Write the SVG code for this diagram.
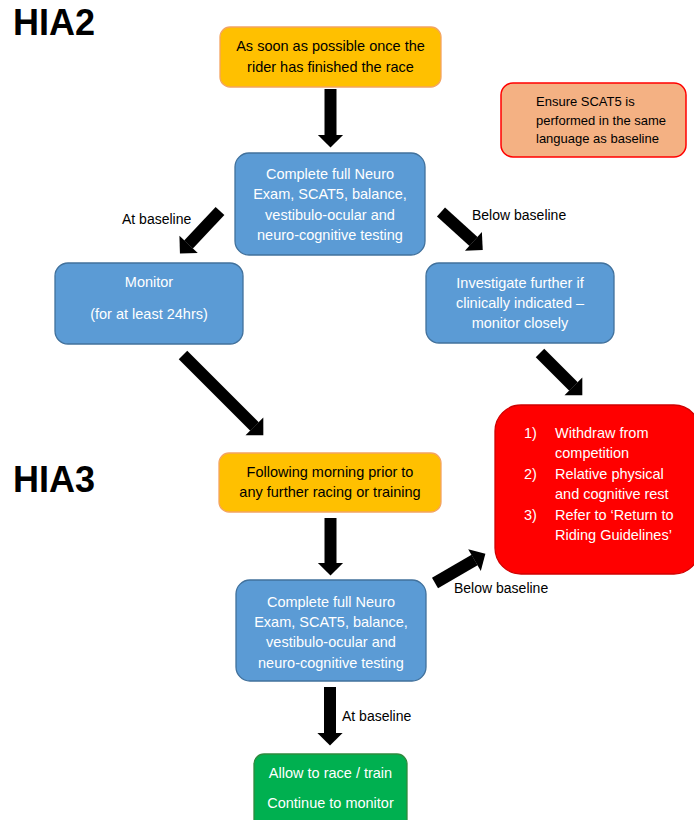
<svg xmlns="http://www.w3.org/2000/svg" width="694" height="820" viewBox="0 0 694 820">
<style>
.t{font-family:"Liberation Sans",Arial,sans-serif;font-size:14.5px;}
.w{fill:#ffffff;}
.k{fill:#000000;}
.c{text-anchor:middle;}
.title{font-family:"Liberation Sans",Arial,sans-serif;font-size:36px;font-weight:bold;fill:#000;}
.lbl{font-family:"Liberation Sans",Arial,sans-serif;font-size:14px;fill:#000;}
.blue{fill:#5B9BD5;stroke:#41719C;stroke-width:1.3;}
.orange{fill:#FFC000;stroke:#F4A460;stroke-width:1.3;}
.salmon{fill:#F4B183;stroke:#FF0000;stroke-width:1.5;}
.red{fill:#FF0000;stroke:#D00000;stroke-width:1.3;}
.green{fill:#00B050;stroke:#2E8B3E;stroke-width:1.3;}
.arr{stroke:#000;stroke-width:12;fill:none;marker-end:url(#ah);}
</style>
<defs>
<marker id="ah" markerUnits="strokeWidth" markerWidth="1.05" markerHeight="2.1" viewBox="0 0 1.05 2.1" refX="0.01" refY="1.05" orient="auto" overflow="visible">
<path d="M0,0 L1.05,1.05 L0,2.1 z" fill="#000"/>
</marker>
</defs>
<rect width="694" height="820" fill="#ffffff"/>
<text class="title" x="13" y="35">HIA2</text>
<text class="title" x="13" y="492">HIA3</text>

<g id="connectors">
<line class="arr" x1="330.5" y1="89" x2="330.5" y2="135"/>
<line class="arr" x1="220" y1="211" x2="188.5" y2="244.5"/>
<line class="arr" x1="441" y1="212" x2="473.5" y2="241.5"/>
<line class="arr" x1="183" y1="355" x2="254.5" y2="426.5"/>
<line class="arr" x1="540" y1="353" x2="573.5" y2="386.5"/>
<line class="arr" x1="330.5" y1="518" x2="330.5" y2="563"/>
<line class="arr" x1="435" y1="583" x2="474.6" y2="560"/>
<line class="arr" x1="330" y1="687" x2="330" y2="733"/>
<text class="lbl" x="122" y="224">At baseline</text>
<text class="lbl" x="472" y="220">Below baseline</text>
<text class="lbl" x="454" y="593">Below baseline</text>
<text class="lbl" x="342" y="721">At baseline</text>
</g>

<g id="start">
<rect class="orange" x="220" y="27" width="221" height="60" rx="10"/>
<text class="t k c" x="330.5" y="51">As soon as possible once the</text>
<text class="t k c" x="330.5" y="72">rider has finished the race</text>
</g>

<g id="note">
<rect class="salmon" x="501" y="83" width="185" height="74" rx="12"/>
<text class="k" x="536" y="106" style="font-family:'Liberation Sans',Arial,sans-serif;font-size:13px">Ensure SCAT5 is</text>
<text class="k" x="536" y="124.5" style="font-family:'Liberation Sans',Arial,sans-serif;font-size:13px">performed in the same</text>
<text class="k" x="536" y="143" style="font-family:'Liberation Sans',Arial,sans-serif;font-size:13px">language as baseline</text>
</g>

<g id="exam1">
<rect class="blue" x="235" y="153" width="190" height="102" rx="14"/>
<text class="t w c" x="330" y="179">Complete full Neuro</text>
<text class="t w c" x="330" y="199">Exam, SCAT5, balance,</text>
<text class="t w c" x="330" y="220">vestibulo-ocular and</text>
<text class="t w c" x="330" y="240">neuro-cognitive testing</text>
</g>

<g id="monitor">
<rect class="blue" x="55" y="263" width="188" height="81" rx="13"/>
<text class="t w c" x="149" y="287">Monitor</text>
<text class="t w c" x="149" y="319">(for at least 24hrs)</text>
</g>

<g id="investigate">
<rect class="blue" x="426" y="263" width="188" height="80" rx="13"/>
<text class="t w c" x="520" y="288">Investigate further if</text>
<text class="t w c" x="520" y="308">clinically indicated –</text>
<text class="t w c" x="520" y="328">monitor closely</text>
</g>

<g id="withdraw">
<rect class="red" x="495" y="405" width="205" height="169" rx="26"/>
<text class="t w" x="524" y="438">1)</text>
<text class="t w" x="555" y="438">Withdraw from</text>
<text class="t w" x="555" y="458">competition</text>
<text class="t w" x="524" y="479">2)</text>
<text class="t w" x="555" y="479">Relative physical</text>
<text class="t w" x="555" y="499">and cognitive rest</text>
<text class="t w" x="524" y="520">3)</text>
<text class="t w" x="555" y="520">Refer to ‘Return to</text>
<text class="t w" x="555" y="540">Riding Guidelines’</text>
</g>

<g id="morning">
<rect class="orange" x="219" y="453" width="222" height="59" rx="10"/>
<text class="t k c" x="330" y="477">Following morning prior to</text>
<text class="t k c" x="330" y="497">any further racing or training</text>
</g>

<g id="exam2">
<rect class="blue" x="236" y="580" width="190" height="101" rx="14"/>
<text class="t w c" x="331" y="607">Complete full Neuro</text>
<text class="t w c" x="331" y="627">Exam, SCAT5, balance,</text>
<text class="t w c" x="331" y="647">vestibulo-ocular and</text>
<text class="t w c" x="331" y="668">neuro-cognitive testing</text>
</g>

<g id="allow">
<rect class="green" x="254" y="754" width="153" height="80" rx="10"/>
<text class="t w c" x="330.5" y="778">Allow to race / train</text>
<text class="t w c" x="330.5" y="808">Continue to monitor</text>
</g>
</svg>
